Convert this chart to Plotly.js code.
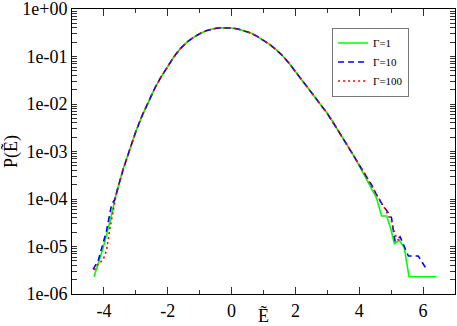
<!DOCTYPE html>
<html>
<head>
<meta charset="utf-8">
<script src="https://cdn.plot.ly/plotly-3.0.1.min.js"></script>
<style>
  html, body { margin: 0; padding: 0; background: #fff; }
  #plotArea { width: 457px; height: 326px; }
</style>
</head>
<body>
<div id="plotArea"></div>
<script>
// shared central part of the distribution (all three curves coincide here)
var bodyE = [-3.6, -3.4, -3.2, -3.0, -2.8, -2.6, -2.4, -2.2, -2.0, -1.8, -1.6, -1.4, -1.2, -1.0,
             -0.8, -0.6, -0.4, -0.2, 0.0, 0.2, 0.4, 0.6, 0.8, 1.0, 1.2, 1.4, 1.6, 1.8, 2.0,
             2.2, 2.4, 2.6, 2.8, 3.0, 3.2, 3.4, 3.6, 3.8];
var bodyP = [1.41e-4, 4.17e-4, 1.05e-3, 2.63e-3, 5.75e-3, 1.17e-2, 2.19e-2, 3.80e-2, 6.31e-2, 0.100,
             0.148, 0.200, 0.251, 0.302, 0.347, 0.380, 0.400, 0.406, 0.398, 0.380, 0.351, 0.313,
             0.266, 0.221, 0.178, 0.138, 0.1035, 0.0724, 0.0479, 0.0324, 0.0219, 0.0145, 9.55e-3,
             6.31e-3, 3.89e-3, 2.40e-3, 1.48e-3, 8.7e-4];

// tails, Gamma = 1
var g1LeftE = [-4.31, -4.13, -4.02, -3.81, -3.66];
var g1LeftP = [2.3e-6, 5.9e-6, 9.5e-6, 3.4e-5, 9.8e-5];
var g1RightE = [4.0, 4.2, 4.33, 4.54, 4.70, 4.86, 4.99, 5.10, 5.25, 5.41, 5.56, 6.42];
var g1RightP = [5.0e-4, 2.8e-4, 2.0e-4, 1.05e-4, 4.4e-5, 4.4e-5, 2.3e-5, 1.15e-5, 1.35e-5, 9.5e-6, 2.3e-6, 2.3e-6];

// tails, Gamma = 10
var g10LeftE = [-4.34, -4.18, -3.92, -3.76, -3.66];
var g10LeftP = [3.3e-6, 5.0e-6, 2.1e-5, 7.6e-5, 9.8e-5];
var g10RightE = [4.0, 4.2, 4.4, 4.55, 4.70, 4.91, 5.01, 5.07, 5.12, 5.28, 5.43, 5.54, 5.85, 6.11];
var g10RightP = [5.2e-4, 3.2e-4, 1.9e-4, 1.2e-4, 8.1e-5, 5.1e-5, 4.0e-5, 2.1e-5, 1.3e-5, 1.6e-5, 9.5e-6, 6.3e-6, 6.3e-6, 3.3e-6];

// tails, Gamma = 100
var g100LeftE = [-4.30, -4.23, -4.02, -3.92, -3.81, -3.66];
var g100LeftP = [3.2e-6, 3.9e-6, 5.4e-6, 8.1e-6, 2.45e-5, 9.8e-5];
var g100RightE = [4.0, 4.2, 4.4, 4.6, 4.8, 5.01, 5.10, 5.2, 5.33];
var g100RightP = [5.2e-4, 3.2e-4, 1.8e-4, 1.07e-4, 6.3e-5, 3.4e-5, 1.95e-5, 1.4e-5, 1.35e-5];

var xTickVals = [-4, -2, 0, 2, 4, 6];
var xTickText = ["-4", "-2", "0", "2", "4", "6"];
var yTickVals = [1, 1e-1, 1e-2, 1e-3, 1e-4, 1e-5, 1e-6];
var yTickText = ["1e+00", "1e-01", "1e-02", "1e-03", "1e-04", "1e-05", "1e-06"];

// minor log ticks 2..9 in every decade, unlabelled
var yMinor = [];
for (var d = -6; d < 0; d++) {
    for (var m = 2; m <= 9; m++) yMinor.push(m * Math.pow(10, d));
}
var yAllTicks = yTickVals.concat(yMinor);
var yAllText = yTickText.concat(yMinor.map(function () { return ""; }));

function curve(leftE, leftP, rightE, rightP) {
    return {x: leftE.concat(bodyE, rightE), y: leftP.concat(bodyP, rightP)};
}

var c1 = curve(g1LeftE, g1LeftP, g1RightE, g1RightP);
var c10 = curve(g10LeftE, g10LeftP, g10RightE, g10RightP);
var c100 = curve(g100LeftE, g100LeftP, g100RightE, g100RightP);

var data = [
    {x: c1.x, y: c1.y, mode: "lines", name: "\u0393=1",
     line: {color: "#00ff00", width: 1.6}},
    {x: c10.x, y: c10.y, mode: "lines", name: "\u0393=10",
     line: {color: "#0000ff", width: 1.6, dash: "6px,4px"}},
    {x: c100.x, y: c100.y, mode: "lines", name: "\u0393=100",
     line: {color: "#ff0000", width: 1.6, dash: "2px,3px"}}
];

var serif = "Liberation Serif, Times New Roman, serif";

var layout = {
    width: 457,
    height: 326,
    margin: {l: 72, r: 2, t: 9, b: 32},
    paper_bgcolor: "#fff",
    plot_bgcolor: "#fff",
    font: {family: serif, size: 18, color: "#000"},
    showlegend: true,
    legend: {
        x: 0.679, y: 0.935, xanchor: "left", yanchor: "top",
        bgcolor: "#fff", bordercolor: "#777", borderwidth: 1,
        font: {family: serif, size: 11, color: "#000"},
        itemwidth: 30, tracegroupgap: 0
    },
    xaxis: {
        range: [-5, 7],
        tickvals: xTickVals, ticktext: xTickText,
        tickfont: {family: serif, size: 18, color: "#000"},
        ticks: "inside", ticklen: 7, tickwidth: 1, tickcolor: "#333",
        minor: {dtick: 1, ticks: "inside", ticklen: 4, tickwidth: 1, tickcolor: "#333"},
        showline: true, linecolor: "#000", linewidth: 1, mirror: "ticks",
        showgrid: false, zeroline: false,
        title: {text: "\u1EBC", font: {family: serif, size: 18, color: "#000"}, standoff: 0}
    },
    yaxis: {
        type: "log",
        range: [-6, 0],
        tickmode: "array",
        tickvals: yAllTicks, ticktext: yAllText,
        tickfont: {family: serif, size: 18, color: "#000"},
        ticklabeloverflow: "allow",
        ticks: "inside", ticklen: 5, tickwidth: 1, tickcolor: "#333",
        showline: true, linecolor: "#000", linewidth: 1, mirror: "ticks",
        showgrid: false, zeroline: false,
        title: {text: "P(\u1EBC)", font: {family: serif, size: 18, color: "#000"}, standoff: 2}
    }
};

Plotly.newPlot("plotArea", data, layout, {displayModeBar: false, staticPlot: true});
</script>
</body>
</html>
